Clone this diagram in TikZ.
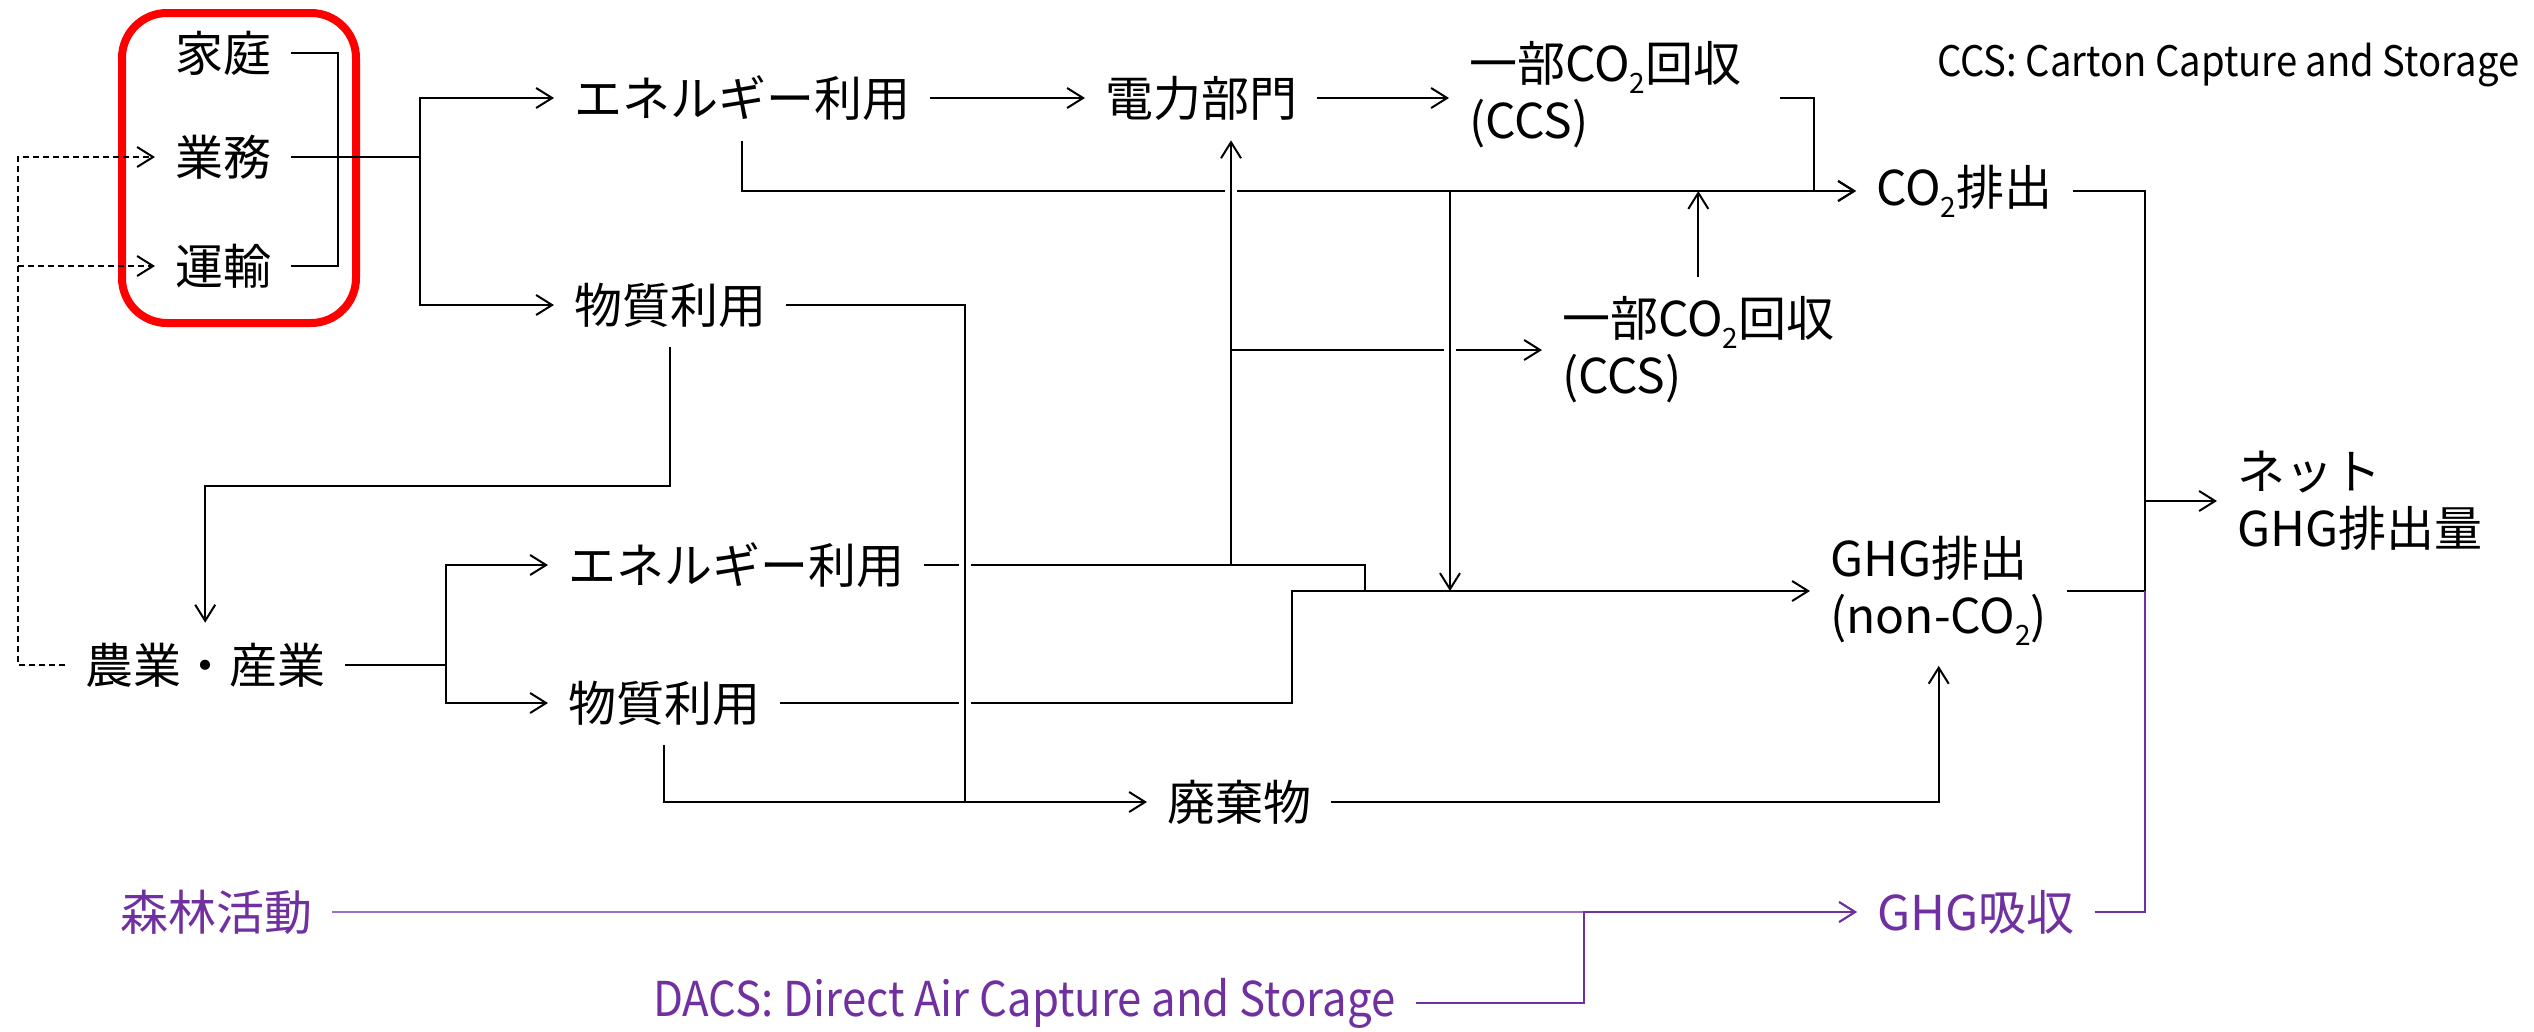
\documentclass[tikz,border=0pt]{standalone}
\usepackage{fontspec}
\setmainfont{Noto Sans CJK JP}
\newfontfamily\latn[FakeStretch=0.91]{Noto Sans CJK JP}
\usepackage{graphicx}
\usetikzlibrary{arrows.meta,calc}
\definecolor{pp}{HTML}{7030A0}
\definecolor{ppl}{HTML}{9A70C4}
\newcommand{\subtwo}{\raisebox{-12pt}{\fontsize{28}{28}\selectfont 2}}
\begin{document}
\begin{tikzpicture}[x=1pt,y=-1pt,
  lbl/.style={anchor=west, inner xsep=20pt, inner ysep=20pt, font=\fontsize{48}{57}\selectfont, align=left},
  ln/.style={line width=2pt},
  arr/.style={ln, -{Straight Barb[length=16pt,width=20pt]}},
  dsh/.style={dash pattern=on 6pt off 4pt},
  gapw/.style={draw=white, line width=12pt},
]
\useasboundingbox (0,0) rectangle (2534,1031);

% grouping box
\draw[red, line width=8pt, rounded corners=45pt] (122,13) rectangle (356,323);

% nodes
\node[lbl] (kt) at (155,53) {家庭};
\node[lbl] (gm) at (155,157) {業務};
\node[lbl] (ut) at (155,266) {運輸};
\node[lbl] (en1) at (554,98) {エネルギー利用};
\node[lbl] (bs1) at (554,305) {物質利用};
\node[lbl] (pw) at (1085,98) {電力部門};
\node[lbl] (ccs1) at (1449,95) {一部CO\subtwo 回収\\(CCS)};
\node[lbl] (co2) at (1856,191) {CO\subtwo 排出};
\node[lbl] (ccs2) at (1542,350) {一部CO\subtwo 回収\\(CCS)};
\node[lbl] (ghg) at (1810,591) {GHG排出\\(non-CO\subtwo)};
\node[lbl] (net) at (2217,501) {ネット\\GHG排出量};
\node[lbl] (ag) at (65,665) {農業・産業};
\node[lbl] (en2) at (548,565) {エネルギー利用};
\node[lbl] (bs2) at (548,703) {物質利用};
\node[lbl] (hk) at (1147,802) {廃棄物};
\node[lbl, text=pp] (sr) at (100,912) {森林活動};
\node[lbl, text=pp] (ab) at (1857,912) {GHG吸収};
\node[lbl, text=pp] (dacs) at (633,1003) {\latn DACS: Direct Air Capture and Storage};
\node[lbl, font=\fontsize{42}{50}\selectfont] (note) at (1917,65) {\latn CCS: Carton Capture and Storage};

% junction x positions
\coordinate (x18) at (18,0);
\coordinate (x338) at (338,0);
\coordinate (x420) at (420,0);
\coordinate (x446) at (446,0);
\coordinate (x965) at (965,0);
\coordinate (x1231) at (1231,0);
\coordinate (x1292) at (1292,0);
\coordinate (x1365) at (1365,0);
\coordinate (x1450) at (1450,0);
\coordinate (x1584) at (1584,0);
\coordinate (x1814) at (1814,0);
\coordinate (x2145) at (2145,0);
\coordinate (y486) at (0,486);

% household / business / transport
\draw[ln] (kt.east) -| (x338 |- ut.east) -- (ut.east);
\draw[arr] (gm.east) -| (x420 |- en1.west) -- (en1.west);
\draw[arr] (x420 |- gm.east) |- (bs1.west);

% top row
\draw[arr] (en1.east) -- (pw.west);
\draw[arr] (pw.east) -- (ccs1.west |- pw.east);
\draw[arr, shorten <=18pt] (ccs1.east |- pw.east) -| (x1814 |- co2.west) -- (co2.west);
\draw[arr] (en1.south) |- (co2.west);

% lower energy / material lines
\draw[ln] (en2.east) -| (x1365 |- ghg.west);
\draw[arr] (bs2.east) -| (x1292 |- ghg.west) -- (ghg.west);

% crossing gaps
\draw[gapw] ($(x1231 |- co2.west)+(0,-8)$) -- ++(0,16);
\draw[gapw] ($(x965 |- en2.east)+(0,-8)$) -- ++(0,16);
\draw[gapw] ($(x965 |- bs2.east)+(0,-8)$) -- ++(0,16);

% power sector feed and CCS branch
\draw[arr] (x1231 |- en2.east) -- (x1231 |- pw.south);
\draw[arr] (x1231 |- ccs2.west) -- (ccs2.west);
\draw[gapw] ($(x1450 |- ccs2.west)+(0,-8)$) -- ++(0,16);
\draw[arr] (x1450 |- co2.west) -- (x1450 |- ghg.west);
\draw[arr] (ccs2.north) -- (ccs2.north |- co2.west);

% to net
\draw[ln] (co2.east) -| (x2145 |- ghg.east);
\draw[ln] (ghg.east) -- (x2145 |- ghg.east);
\draw[arr] (x2145 |- net.west) -- (net.west);

% material use (upper)
\draw[ln] (bs1.east) -| (x965 |- hk.west);
\draw[arr] (bs1.south) |- (ag.north |- y486) -- (ag.north);

% dashed feedback
\draw[arr, dsh] (ag.west) -| (x18 |- gm.west) -- (gm.west);
\draw[arr, dsh] (x18 |- ut.west) -- (ut.west);

% agriculture / industry
\draw[arr] (ag.east) -| (x446 |- en2.west) -- (en2.west);
\draw[arr] (x446 |- ag.east) |- (bs2.west);
\draw[arr] (bs2.south) |- (hk.west);
\draw[arr] (hk.east) -| (ghg.south);

% absorption (purple)
\draw[arr, ppl] (sr.east) -- (ab.west);
\draw[arr, pp] (dacs.east) -| (x1584 |- ab.west) -- (ab.west);
\draw[ln, pp] (ab.east) -| (x2145 |- ghg.east);
\end{tikzpicture}
\end{document}
